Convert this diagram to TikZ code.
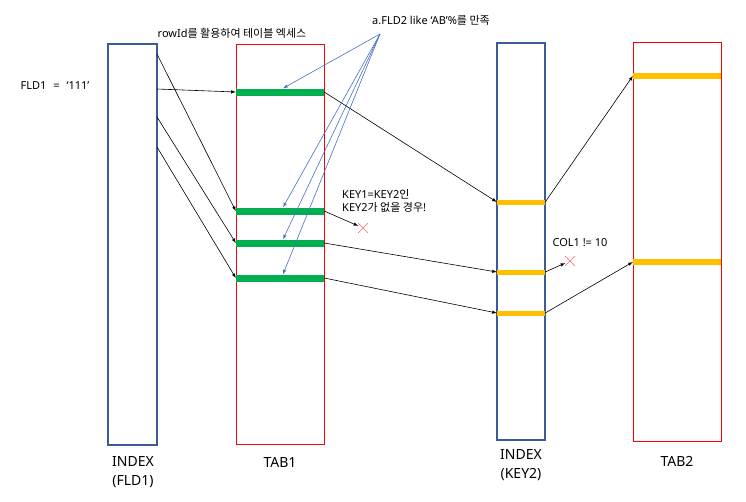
\documentclass[tikz,border=0pt]{standalone}
\usepackage{fontspec}
\setmainfont{Noto Sans}
\newfontfamily\kr{Noto Sans CJK KR}
\usepackage{tikz}
\usetikzlibrary{calc,shapes.misc}
\definecolor{idxblue}{RGB}{60,90,150}
\definecolor{linkblue}{RGB}{68,114,196}
\definecolor{rowgreen}{RGB}{0,176,80}
\definecolor{keyyellow}{RGB}{255,192,0}

\begin{document}
\begin{tikzpicture}[x=1pt,y=-1pt]
  \tikzstyle{directed}=[-latex, line width=0.6pt, color=black]
  \tikzstyle{hint}=[-latex, line width=0.6pt, color=linkblue]
  \tikzstyle{tbl}=[rectangle, draw, line width=0.9pt, inner sep=0pt]
  \tikzstyle{bar}=[rectangle, inner sep=0pt, minimum width=88pt]
  \tikzstyle{txt}=[font=\fontsize{11}{13}\selectfont, inner sep=0pt]
  \tikzstyle{title}=[font=\fontsize{14}{19}\selectfont, align=center, inner sep=0pt]
  \tikzstyle{miss}=[cross out, draw=red!60, line width=0.6pt, minimum size=9pt, inner sep=0pt]
  \useasboundingbox (0,0) rectangle (746,501);
  % indexes and tables
  \node[tbl, draw=idxblue, line width=1.1pt, minimum width=49pt, minimum height=401pt] (idx1) at (132.5,244.5) {};
  \node[tbl, draw=red, minimum width=88pt, minimum height=400pt] (tab1) at (280,244) {};
  \node[tbl, draw=idxblue, line width=1.1pt, minimum width=48pt, minimum height=397pt] (idx2) at (521,241.5) {};
  \node[tbl, draw=red, minimum width=88pt, minimum height=399pt] (tab2) at (677,241.5) {};
  \foreach \n/\y in {1/92,2/211,3/243,4/278}
    \node[bar, fill=rowgreen, minimum height=7pt] (g\n) at (280,\y) {};
  \foreach \n/\y in {1/202,2/272,3/313}
    \node[bar, fill=keyyellow, minimum width=48pt, minimum height=5pt] (k\n) at (521,\y) {};
  \foreach \n/\y in {1/76,2/262}
    \node[bar, fill=keyyellow, minimum height=6pt] (r\n) at (677,\y) {};
  \foreach \n/\y in {a/54,b/89,c/117,d/147}
    \coordinate (e\n) at (157,\y);
  \coordinate (src) at (380,34);
  \node[miss] (x1) at (363,228) {};
  \node[miss] (x2) at (570,261) {};
  % labels
  \node[txt] (fld) at (55,86) {FLD1\hspace{7pt}=\hspace{7pt}‘111’};
  \node[txt] (rowid) at (232,33) {rowId{\kr 를 활용하여 테이블 엑세스}};
  \node[txt] (like) at (431,20) {a.FLD2 like ‘AB’\%{\kr 를 만족}};
  \node[txt, align=left, anchor=west] (cond) at (342,201) {KEY1=KEY2{\kr 인}\\KEY2{\kr 가 없을 경우}!};
  \node[txt] (col) at (580,243) {COL1 != 10};
  \node[title] (cidx1) at (133,472) {INDEX\\(FLD1)};
  \node[title] (ctab1) at (280,462) {TAB1};
  \node[title] (cidx2) at (521,465) {INDEX\\(KEY2)};
  \node[title] (ctab2) at (677,461) {TAB2};
  % access paths
  \foreach \a/\b in {a/2,b/1,c/3,d/4}
    \draw[directed] (e\a) -- (g\b.west);
  \foreach \a/\b in {g1/k1,g3/k2,g4/k3,k1/r1,k3/r2}
    \draw[directed] (\a.east) -- (\b.west);
  \draw[directed] (g2.east) -- (x1);
  \draw[directed] (k2.east) -- (x2);
  \foreach \n in {1,...,4}
    \draw[hint] (src) -- ($(g\n.north)+(3,0)$);
\end{tikzpicture}
\end{document}
